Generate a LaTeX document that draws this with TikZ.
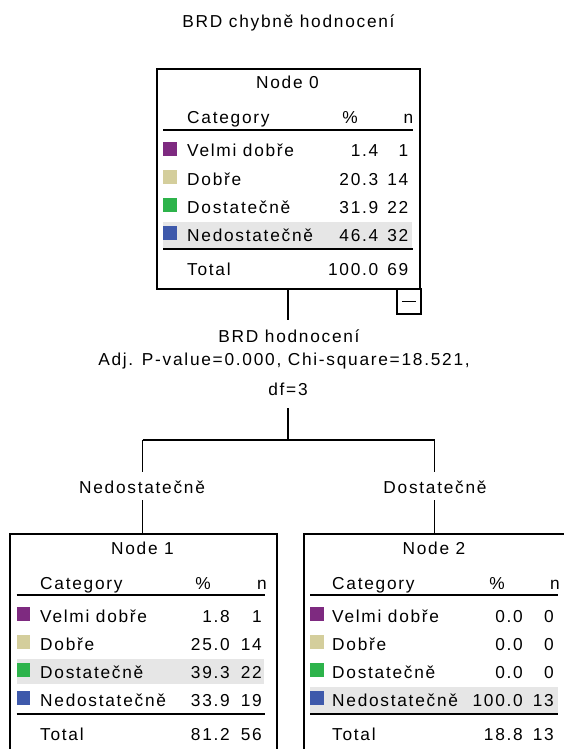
\documentclass[tikz,border=0pt]{standalone}
\usepackage{fontspec}
\setmainfont{Liberation Sans}[LetterSpace=10]
\definecolor{cpurple}{HTML}{7E2A80}
\definecolor{ckhaki}{HTML}{D4CE9C}
\definecolor{cgreen}{HTML}{2DB34B}
\definecolor{cblue}{HTML}{3E59AB}
\definecolor{hlgray}{HTML}{E6E6E6}
\begin{document}
\begin{tikzpicture}[x=1pt,y=-1pt,
  font=\fontsize{17.3}{20}\selectfont,
  treebox/.style={draw,line width=1.6pt,anchor=north west,inner sep=0pt,minimum height=#1},
  lt/.style={inner sep=0pt,anchor=base west},
  rt/.style={inner sep=0pt,anchor=base east},
  ctr/.style={inner sep=0pt,anchor=base},
  sq/.style={inner sep=0pt,minimum size=13.5pt,anchor=north west},
  hl/.style={fill=hlgray},
  rulel/.style={line width=1.6pt},
  conn/.style={line width=1.6pt}]
\useasboundingbox (0,0) rectangle (564,749);
\fill[white] (0,0) rectangle (564,749);

\node[ctr] (title) at (288.5,28) {BRD chybně hodnocení};

% ---------- Node 0 ----------
\begin{scope}[shift={(156,68)}]
  \fill[hl] (7,154) rectangle (256,180);
  \node[treebox=220pt,minimum width=263pt] (n0) at (0,0) {};
  \node[ctr] (n0t) at (131.5,21) {Node 0};
  \node[lt] (n0h1) at (31,56) {Category};
  \node[ctr] (n0h2) at (194,56) {\%};
  \node[rt] (n0h3) at (257.5,56) {n};
  \draw[rulel] (7,62) -- (257,62);
  \foreach \i/\b/\c/\lab/\p/\nn in {1/89/cpurple/Velmi dobře/1.4/1,2/117/ckhaki/Dobře/20.3/14,3/145/cgreen/Dostatečně/31.9/22,4/173/cblue/Nedostatečně/46.4/32}{
    \node[sq,fill=\c] (n0s\i) at (7,\b-15) {};
    \node[lt] (n0c\i) at (31,\b) {\lab};
    \node[rt] (n0p\i) at (222.5,\b) {\p};
    \node[rt] (n0n\i) at (252.5,\b) {\nn};
  }
  \draw[rulel] (7,181) -- (257,181);
  \node[lt] (n0tt) at (31,207) {Total};
  \node[rt] (n0tp) at (222.5,207) {100.0};
  \node[rt] (n0tn) at (252.5,207) {69};
  \node[draw,line width=1.6pt,anchor=north west,inner sep=0pt,minimum width=24pt,minimum height=25pt] (m0) at (240,220) {};
  \draw[line width=1.4pt] ([xshift=-7pt]m0.center) -- ([xshift=7pt]m0.center);
\end{scope}

% ---------- split label ----------
\node[ctr] (sp1) at (289,342) {BRD hodnocení};
\node[ctr] (sp2) at (284,365) {Adj. P-value=0.000, Chi-square=18.521,};
\node[ctr] (sp3) at (288,395) {df=3};
\coordinate (s0a) at (288,320);
\coordinate (s0b) at (288,408);
\coordinate (j0) at (288,440);
\coordinate (b1) at (142.5,440);
\coordinate (b2) at (434.5,440);
\coordinate (l1a) at (142.5,472);
\coordinate (l1b) at (142.5,500);
\coordinate (l2a) at (434.5,472);
\coordinate (l2b) at (434.5,500);
\node[ctr] (lab1) at (142,493) {Nedostatečně};
\node[ctr] (lab2) at (435,493) {Dostatečně};

% ---------- Node 1 ----------
\begin{scope}[shift={(9,533)}]
  \fill[hl] (7.5,126) rectangle (255,151);
  \node[treebox=240pt,minimum width=267pt] (n1) at (0,0) {};
  \node[ctr] (n1t) at (133.5,21) {Node 1};
  \node[lt] (n1h1) at (31,56) {Category};
  \node[ctr] (n1h2) at (194,56) {\%};
  \node[rt] (n1h3) at (258,56) {n};
  \draw[rulel] (7.5,62) -- (256,62);
  \foreach \i/\b/\c/\lab/\p/\nn in {1/89/cpurple/Velmi dobře/1.8/1,2/117/ckhaki/Dobře/25.0/14,3/145/cgreen/Dostatečně/39.3/22,4/173/cblue/Nedostatečně/33.9/19}{
    \node[sq,fill=\c] (n1s\i) at (7.5,\b-15) {};
    \node[lt] (n1c\i) at (31,\b) {\lab};
    \node[rt] (n1p\i) at (221,\b) {\p};
    \node[rt] (n1n\i) at (253,\b) {\nn};
  }
  \draw[rulel] (7.5,181) -- (256,181);
  \node[lt] (n1tt) at (31,207) {Total};
  \node[rt] (n1tp) at (221,207) {81.2};
  \node[rt] (n1tn) at (253,207) {56};
\end{scope}

% ---------- Node 2 ----------
\begin{scope}[shift={(303,533)}]
  \fill[hl] (7,154) rectangle (255,180);
  \node[treebox=240pt,minimum width=263pt] (n2) at (0,0) {};
  \node[ctr] (n2t) at (131,21) {Node 2};
  \node[lt] (n2h1) at (29,56) {Category};
  \node[ctr] (n2h2) at (194,56) {\%};
  \node[rt] (n2h3) at (257,56) {n};
  \draw[rulel] (7,62) -- (255,62);
  \foreach \i/\b/\c/\lab/\p/\nn in {1/89/cpurple/Velmi dobře/0.0/0,2/117/ckhaki/Dobře/0.0/0,3/145/cgreen/Dostatečně/0.0/0,4/173/cblue/Nedostatečně/100.0/13}{
    \node[sq,fill=\c] (n2s\i) at (7,\b-15) {};
    \node[lt] (n2c\i) at (29,\b) {\lab};
    \node[rt] (n2p\i) at (220,\b) {\p};
    \node[rt] (n2n\i) at (251,\b) {\nn};
  }
  \draw[rulel] (7,181) -- (255,181);
  \node[lt] (n2tt) at (29,207) {Total};
  \node[rt] (n2tp) at (220,207) {18.8};
  \node[rt] (n2tn) at (251,207) {13};
\end{scope}

% ---------- connectors ----------
\draw[conn] (n0.south -| s0a) -- (s0a);
\draw[conn] (s0b) -- (j0);
\draw[conn] (b1) -- (b2);
\draw[conn] (b1) -- (l1a);
\draw[conn] (b2) -- (l2a);
\draw[conn] (l1b) -- (n1.north -| l1b);
\draw[conn] (l2b) -- (n2.north -| l2b);
\end{tikzpicture}
\end{document}
